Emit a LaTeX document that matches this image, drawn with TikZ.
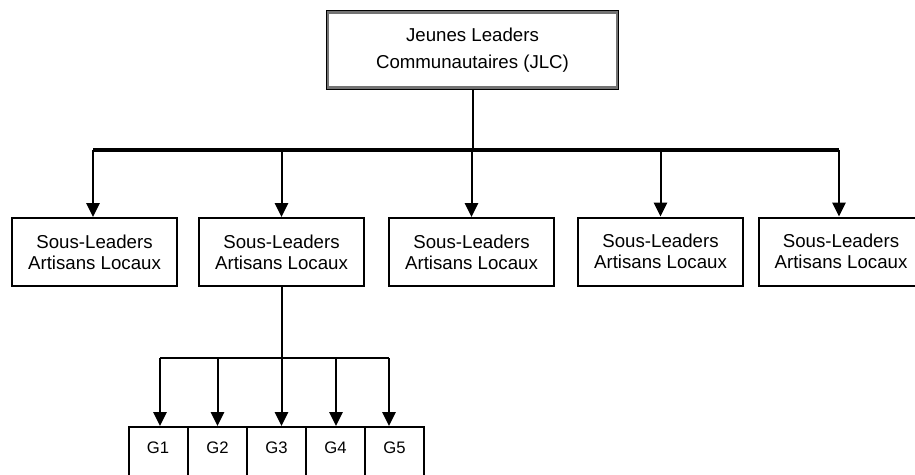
\documentclass[tikz,border=0pt]{standalone}
\usepackage{fontspec}
\setmainfont{Liberation Sans}
\usetikzlibrary{arrows.meta}
\tikzset{
  boxline/.style={line width=1.5pt},
  topbox/.style={draw=black!55, line width=2.4pt, minimum width=217pt, minimum height=57pt,
    inner sep=0pt, align=center, font=\fontsize{14}{20}\selectfont},
  topinner/.style={draw=black, line width=0.9pt},
  subbox/.style={draw, line width=1.5pt, minimum width=123.75pt, minimum height=51pt,
    inner sep=0pt, align=center, font=\fontsize{14}{15.5}\selectfont},
  gbox/.style={draw, line width=1.5pt, minimum width=44.25pt, inner sep=0pt,
    text height=19.5pt, text depth=30pt, font=\fontsize{12.5}{14}\selectfont, anchor=base},
  busline/.style={line width=2.3pt},
  conn/.style={line width=1.5pt},
  arr/.style={line width=1.5pt, -{Triangle[width=10pt,length=10.5pt]}},
}
\begin{document}
\begin{tikzpicture}[x=0.75pt,y=-0.75pt]
\useasboundingbox (0,0) rectangle (915,475);
\clip (0,0) rectangle (915,475);
\fill[white] (0,0) rectangle (915,475);

% top box
\node[topbox] (jlc) at (472.5,50) {Jeunes Leaders\\Communautaires (JLC)};
\draw[topinner] (jlc.south west) rectangle (jlc.north east);

% sub boxes
\node[subbox] (s1) at (94.5,252) {Sous-Leaders\\Artisans Locaux};
\node[subbox] (s2) at (281.5,252) {Sous-Leaders\\Artisans Locaux};
\node[subbox] (s3) at (471.5,252) {Sous-Leaders\\Artisans Locaux};
\node[subbox] (s4) at (660.5,251.5) {Sous-Leaders\\Artisans Locaux};
\node[subbox] (s5) at (841,251.5) {Sous-Leaders\\Artisans Locaux};

% G boxes
\node[gbox] (G1) at (158,453) {G1};
\node[gbox] (G2) at (217.5,453) {G2};
\node[gbox] (G3) at (276.5,453) {G3};
\node[gbox] (G4) at (335.5,453) {G4};
\node[gbox] (G5) at (394.5,453) {G5};

% top bus
\coordinate (busL) at (93,150);
\coordinate (busR) at (839,150);
\draw[conn] (jlc.south) -- (jlc.south |- busL);
\draw[busline] (busL) -- (busR);
\draw[arr] (busL) -- (busL |- s1.north);
\draw[arr] (s2.north |- busL) -- (s2.north);
\draw[arr] (s3.north |- busL) -- (s3.north);
\draw[arr] (s4.north |- busL) -- (s4.north);
\draw[arr] (busR) -- (busR |- s5.north);

% G bus
\coordinate (gbL) at (160,358);
\coordinate (gbR) at (389,358);
\coordinate (gb4) at (336,358);
\draw[conn] (gbL) -- (gbR);
\draw[arr] (s2.south) -- (s2.south |- G3.north);
\draw[arr] (gbL) -- (gbL |- G1.north);
\draw[arr] (G2.north |- gbL) -- (G2.north);
\draw[arr] (gb4) -- (gb4 |- G4.north);
\draw[arr] (gbR) -- (gbR |- G5.north);
\end{tikzpicture}
\end{document}
